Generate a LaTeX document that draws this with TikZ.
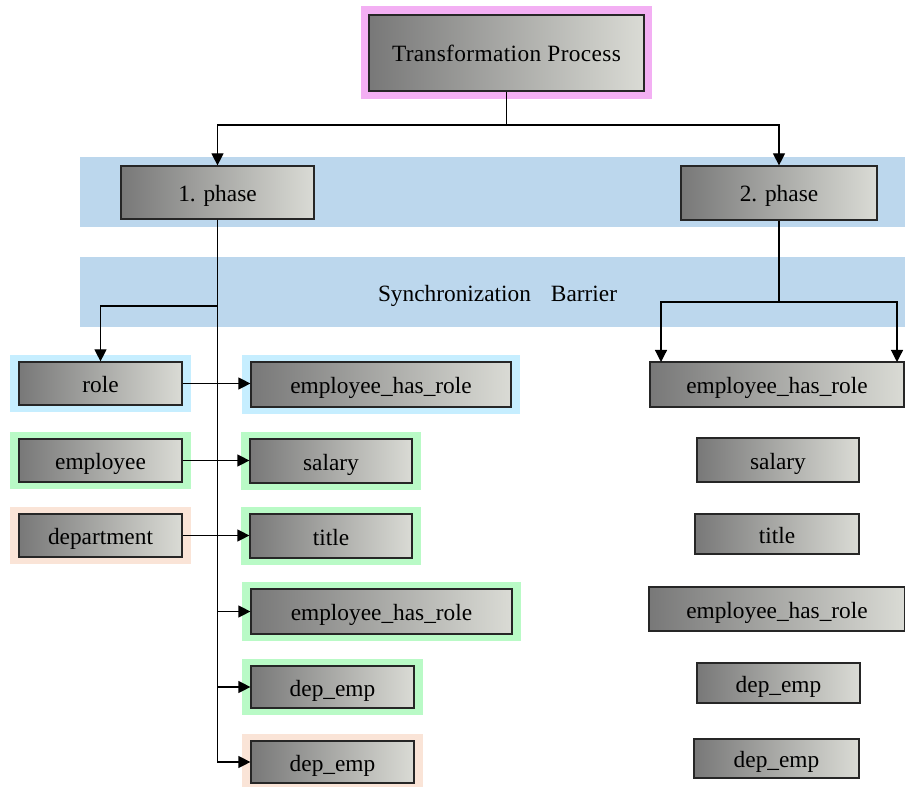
\documentclass[tikz,border=0pt]{standalone}
\usepackage{fontspec}
\setmainfont{Liberation Serif}
\newfontfamily\boxfont{Liberation Serif}
\usetikzlibrary{arrows.meta}
\pgfdeclarelayer{bg}
\pgfsetlayers{bg,main}

\definecolor{bandblue}{RGB}{188,215,237}
\definecolor{halopink}{RGB}{243,175,243}
\definecolor{haloblue}{RGB}{198,238,255}
\definecolor{halogreen}{RGB}{185,250,198}
\definecolor{halopeach}{RGB}{250,228,215}
\definecolor{shadeL}{RGB}{120,120,120}
\definecolor{shadeR}{RGB}{218,219,213}

\tikzset{
  lbl/.style={font=\boxfont\fontsize{17.5}{20}\selectfont},
  box/.style 2 args={lbl, draw=black!85, line width=0.9pt, inner sep=0pt,
    left color=shadeL, right color=shadeR,
    text height=13.5pt, text depth=0pt,
    minimum width=#1*0.75pt, minimum height=#2*0.75pt},
  link/.style={draw=black, line width=0.9pt},
  arr/.style={link, -{Triangle[length=9pt,width=9pt]}},
  band/.style={fill=bandblue}
}

\begin{document}
\begin{tikzpicture}[x=0.75pt,y=-0.75pt]
\useasboundingbox (0,0) rectangle (905,787);

% horizontal bands
\fill[band] (80,157) rectangle (905,227);
\fill[band] (80,257) rectangle (905,327);
\node[lbl, anchor=base, inner sep=0pt] (sync) at (497.5,302) {Synchronization\hspace{15pt}Barrier};

% top and phase nodes
\node[box={275}{76}] (tp) at (506.5,53) {\addfontfeatures{LetterSpace=1.6}Transformation Process};
\node[box={193}{53}] (ph1) at (217.5,192.5) {1. phase};
\node[box={196}{54}] (ph2) at (779,193) {2. phase};

% first phase column
\node[box={163}{43}] (role) at (100.5,383.5) {role};
\node[box={163}{43}] (emp)  at (100.5,460.5) {employee};
\node[box={163}{43}] (dep)  at (100.5,535.5) {department};
\node[box={260}{45}] (ehr1) at (381,384.5) {employee\_has\_role};
\node[box={162}{44}] (sal1) at (331,461) {salary};
\node[box={162}{44}] (tit1) at (331,536) {title};
\node[box={261}{45}] (ehr2) at (381.5,611.5) {employee\_has\_role};
\node[box={163}{42}] (de1)  at (332.5,687) {dep\_emp};
\node[box={163}{42}] (de2)  at (332.5,762) {dep\_emp};

% second phase column
\node[box={254}{45}] (ehr3) at (777,384.5) {employee\_has\_role};
\node[box={162}{44}] (sal2) at (778,460) {salary};
\node[box={164}{40}] (tit2) at (777,534) {title};
\node[box={256}{44}] (ehr4) at (777,609) {employee\_has\_role};
\node[box={163}{40}] (de3)  at (778.5,683) {dep\_emp};
\node[box={165}{39}] (de4)  at (776.5,758.5) {dep\_emp};

% coloured halos behind the boxes
\begin{pgfonlayer}{bg}
  \fill[halopink] ([shift={(-7,-8)}]tp.north west) rectangle ([shift={(7,7)}]tp.south east);
  \foreach \n/\c in {role/haloblue, ehr1/haloblue, emp/halogreen, sal1/halogreen,
                     tit1/halogreen, ehr2/halogreen, de1/halogreen,
                     dep/halopeach, de2/halopeach}
    \fill[\c] ([shift={(-8,-6)}]\n.north west) rectangle ([shift={(8,6)}]\n.south east);
\end{pgfonlayer}

% connectors
\coordinate (j0) at (506.5,125);
\draw[link] (tp.south) -- (j0);
\draw[arr] (j0) -| (ph1.north);
\draw[arr] (j0) -| (ph2.north);

\coordinate (b1) at (217.5,306);
\draw[arr] (ph1.south) |- (de2.west);
\draw[arr] (ph1.south) |- (de1.west);
\draw[arr] (ph1.south) |- (ehr2.west);
\draw[arr] (b1) -| (role.north);

\draw[arr] (role.east) -- (role.east -| ehr1.west);
\draw[arr] (emp.east) -- (emp.east -| sal1.west);
\draw[arr] (dep.east) -- (dep.east -| tit1.west);

\coordinate (b2) at (779,302);
\coordinate (t3a) at (661,362);
\coordinate (t3b) at (897,362);
\draw[link] (ph2.south) -- (b2);
\draw[arr] (b2) -| (t3a);
\draw[arr] (b2) -| (t3b);
\end{tikzpicture}
\end{document}
